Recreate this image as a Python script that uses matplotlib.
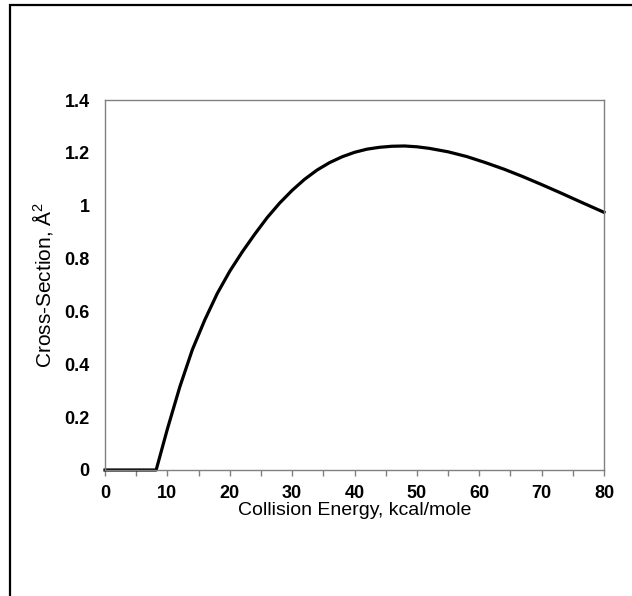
import matplotlib
matplotlib.use("Agg")
import matplotlib.pyplot as plt
from matplotlib.patches import Rectangle
from matplotlib.ticker import MultipleLocator

plt.rcParams['font.family'] = ['Liberation Sans', 'DejaVu Sans']
plt.rcParams['mathtext.fontset'] = 'custom'
plt.rcParams['mathtext.rm'] = 'Liberation Sans'
plt.rcParams['mathtext.default'] = 'regular'

# collision energy (kcal/mole) and cross-section (A^2)
energia = [0, 8.2, 10, 12, 14, 16, 18, 20, 22, 24, 26, 28, 30, 32, 34, 36,
           38, 40, 42, 44, 46, 48, 50, 52, 55, 58, 61, 64, 67, 70, 73, 76, 80]
secao = [0, 0, 0.155, 0.315, 0.455, 0.568, 0.668, 0.752, 0.825, 0.892,
         0.955, 1.01, 1.058, 1.1, 1.135, 1.163, 1.185, 1.202, 1.214, 1.221,
         1.225, 1.226, 1.223, 1.217, 1.204, 1.186, 1.163, 1.138, 1.11,
         1.08, 1.049, 1.017, 0.975]

yticks = [0, 0.2, 0.4, 0.6, 0.8, 1.0, 1.2, 1.4]
ytick_labels = ["0", "0.2", "0.4", "0.6", "0.8", "1", "1.2", "1.4"]
xticks = [0, 10, 20, 30, 40, 50, 60, 70, 80]

fig = plt.figure(figsize=(6.32, 5.96), dpi=100)
ax = fig.add_axes([105 / 632, 126 / 596, 499 / 632, 370 / 596])

# moldura externa da figura
fig.patches.append(Rectangle((9.5 / 632, -0.1), 1.2, 1.1 - 5 / 596,
                             transform=fig.transFigure, fill=False,
                             edgecolor='black', linewidth=1.6))

ax.plot(energia, secao, color='black', linewidth=2.3, clip_on=False,
        solid_joinstyle='round')

ax.set_xlim(0, 80)
ax.set_ylim(0, 1.4)
ax.set_xticks(xticks)
ax.xaxis.set_minor_locator(MultipleLocator(5))
ax.set_yticks(yticks)
ax.set_yticklabels(ytick_labels)

for s in ax.spines.values():
    s.set_color('#808080')
    s.set_linewidth(1.0)

ax.tick_params(axis='x', which='both', direction='out', length=4,
               width=1.0, color='#808080', pad=7)
ax.tick_params(axis='y', length=0, pad=11)
for lbl in ax.get_xticklabels() + ax.get_yticklabels():
    lbl.set_fontweight('bold')
    lbl.set_fontsize(13)

ax.set_xlabel("Collision Energy, kcal/mole", fontsize=14, labelpad=0)
ax.set_ylabel("Cross-Section, Å$^{2}$", fontsize=15, labelpad=7)

fig.savefig("out.png", dpi=100)
